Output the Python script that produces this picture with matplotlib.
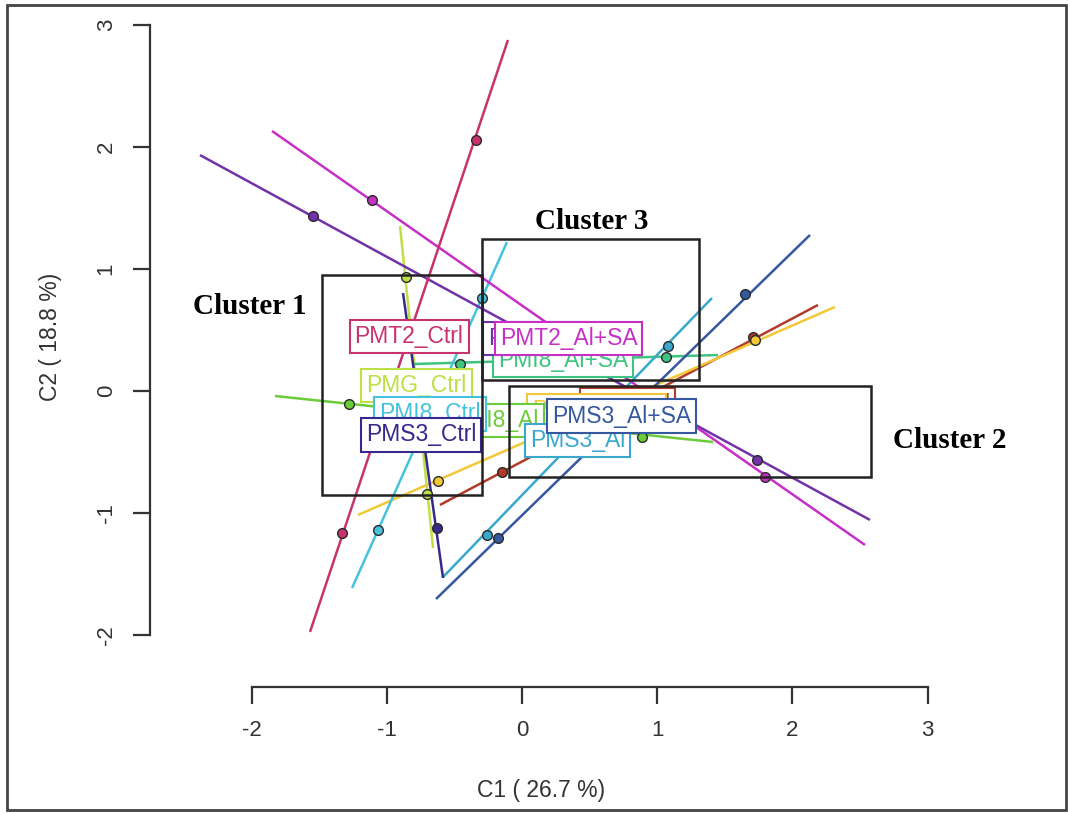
import numpy as np
import matplotlib
matplotlib.use('Agg')
import matplotlib.pyplot as plt
from matplotlib.patches import Rectangle

plt.rcParams['font.family'] = ['Liberation Sans', 'DejaVu Sans']
plt.rcParams['axes.unicode_minus'] = False

W, H = 1068, 813

# groups: name, colour, line end points (x0, y0, x1, y1), two sample points (x, y)
names = ['PMG_Al', 'PMG_Al+SA', 'PMG_Ctrl',
         'PMI8_Al', 'PMI8_Al+SA', 'PMI8_Ctrl',
         'PMS3_Al', 'PMS3_Al+SA', 'PMS3_Ctrl',
         'PMT2_Al', 'PMT2_Al+SA', 'PMT2_Ctrl']
colors = ['#B23A28', '#F2C838', '#BEDF45',
          '#6CCB3A', '#3DC47E', '#45C3DE',
          '#3AA8CC', '#35589E', '#36298C',
          '#7232A8', '#C630C6', '#C8336E']
line_x0 = [-0.607, -1.213, -0.902, -1.827, -0.806, -1.257, -0.584, -0.636, -0.880, -2.382, -1.849, -1.568]
line_y0 = [-0.934, -1.016, 1.352, -0.041, 0.221, -1.615, -1.525, -1.705, 0.803, 1.934, 2.131, -1.975]
line_x1 = [2.189, 2.315, -0.658, 1.413, 1.450, -0.111, 1.405, 2.130, -0.584, 2.574, 2.537, -0.104]
line_y1 = [0.705, 0.689, -1.287, -0.418, 0.295, 1.221, 0.762, 1.279, -1.533, -1.057, -1.262, 2.877]
pt_x = [[-0.148, 1.709], [-0.621, 1.723], [-0.858, -0.703],
        [-1.280, 0.888], [-0.459, 1.065], [-1.065, -0.296],
        [-0.259, 1.080], [-0.178, 1.649], [-0.865, -0.629],
        [-1.546, 1.738], [-1.109, 1.797], [-1.331, -0.340]]
pt_y = [[-0.664, 0.443], [-0.738, 0.415], [0.934, -0.844],
        [-0.107, -0.377], [0.221, 0.279], [-1.139, 0.762],
        [-1.180, 0.369], [-1.205, 0.795], [0.402, -1.123],
        [1.434, -0.566], [1.566, -0.705], [-1.164, 2.057]]

# cluster boxes (x0, x1, y0, y1) and their titles
clusters = ['Cluster 1', 'Cluster 2', 'Cluster 3']
box_x0 = [-1.48, -0.096, -0.296]
box_x1 = [-0.296, 2.585, 1.311]
box_y0 = [-0.85, -0.705, 0.093]
box_y1 = [0.95, 0.043, 1.246]
title_x = [-2.012, 3.166, 0.518]
title_y = [0.689, -0.402, 1.393]

fig = plt.figure(figsize=(W / 100, H / 100), dpi=100)
fig.patch.set_facecolor('white')

# axes placed in pixels so that 1 unit = 135.2 px (x), 122 px (y)
left, right, top, bottom = 150, 1040, 10, 687
ax = fig.add_axes([left / W, 1 - bottom / H, (right - left) / W, (bottom - top) / H])
ax.set_xlim((left - 522) / 135.2, (right - 522) / 135.2)
ax.set_ylim((391 - bottom) / 122, (391 - top) / 122)
ax.patch.set_alpha(0)

for i in range(len(names)):
    ax.plot([line_x0[i], line_x1[i]], [line_y0[i], line_y1[i]],
            color=colors[i], lw=1.8, solid_capstyle='butt', zorder=2)
for i in range(len(names)):
    ax.plot(pt_x[i], pt_y[i], 'o', ms=7, mfc=colors[i], mec='#2a2a2a',
            mew=1.0, zorder=3)

# labels at group centroids, later ones on top
for i in range(len(names)):
    ax.text(np.mean(pt_x[i]), np.mean(pt_y[i]), names[i],
            color=colors[i], fontsize=16.5, ha='center', va='center',
            zorder=4 + i,
            bbox=dict(boxstyle='square,pad=0.22', fc='white', ec=colors[i], lw=1.5))

for i in range(len(clusters)):
    ax.add_patch(Rectangle((box_x0[i], box_y0[i]), box_x1[i] - box_x0[i],
                           box_y1[i] - box_y0[i], fill=False, ec='#222222',
                           lw=1.8, zorder=30))
    ax.text(title_x[i], title_y[i], clusters[i], fontsize=21,
            family='Liberation Serif', fontweight='bold',
            ha='center', va='center', zorder=31)

# R style axes
for s in ['top', 'right']:
    ax.spines[s].set_visible(False)
ax.spines['left'].set_bounds(-2, 3)
ax.spines['bottom'].set_bounds(-2, 3)
for s in ['left', 'bottom']:
    ax.spines[s].set_linewidth(1.6)
    ax.spines[s].set_color('#333333')
ax.set_xticks([-2, -1, 0, 1, 2, 3])
ax.set_yticks([-2, -1, 0, 1, 2, 3])
ax.tick_params(direction='out', length=12, width=1.6, color='#333333',
               labelsize=16, labelcolor='#333333', pad=12)
for lab in ax.get_yticklabels():
    lab.set_rotation(90)
    lab.set_va('center')

fig.text(541 / W, 1 - 790 / H, 'C1 ( 26.7 %)', fontsize=16.5, color='#333333',
         ha='center', va='center')
fig.text(50 / W, 1 - 337 / H, 'C2 ( 18.8 %)', fontsize=16.5, color='#333333',
         ha='center', va='center', rotation=90)

# outer frame of the device
fig.patches.append(Rectangle((7 / W, 1 - 810 / H), (1066 - 7) / W, (810 - 5) / H,
                             transform=fig.transFigure, fill=False,
                             ec='#444444', lw=2))

fig.savefig('out.png', dpi=100)
